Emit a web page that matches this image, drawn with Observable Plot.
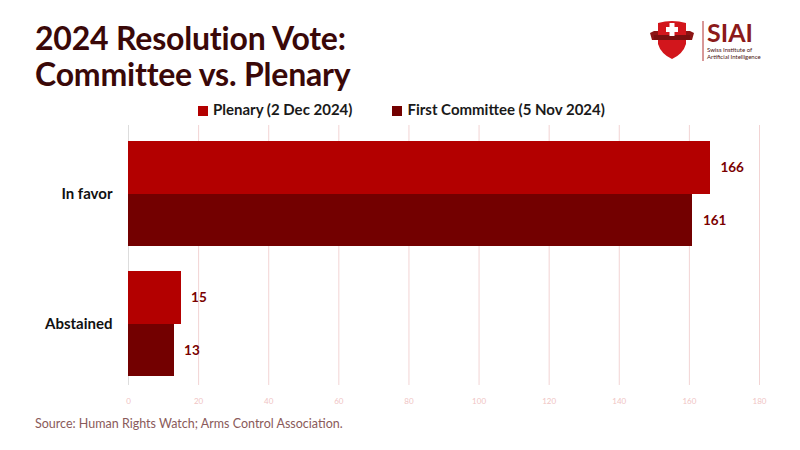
<!DOCTYPE html>
<html>
<head>
<meta charset="utf-8">
<script src="https://cdn.jsdelivr.net/npm/d3@7"></script>
<script src="https://cdn.jsdelivr.net/npm/@observablehq/plot@0.6"></script>
<style>
  body { margin: 0; background: #fff; font-family: Lato, sans-serif; }
  #page { position: relative; width: 800px; height: 450px; overflow: hidden; }
  #title { position: absolute; left: 35px; top: 20px; font-size: 32px; font-weight: 700; line-height: 36px; color: #3a0808; letter-spacing: -0.2px; }
  #logo { position: absolute; left: 648px; top: 14px; }
  #legend { position: absolute; left: 198px; top: 100px; font-size: 15px; font-weight: 700; color: #1a1a1a; display: flex; gap: 40px; }
  #legend span.sw { display: inline-block; width: 10px; height: 10px; margin-right: 5px; vertical-align: -1px; }
  #chart { position: absolute; left: 0; top: 120px; }
  #source { position: absolute; left: 35px; top: 416px; font-size: 12.5px; color: #8a5a5a; }
</style>
</head>
<body>
<div id="page">
  <div id="title">2024 Resolution Vote:<br>Committee vs. Plenary</div>
  <div id="logo">
    <svg width="145" height="52" viewBox="0 0 145 52">
      <path d="M2 19 L6 17 L42 17 L46 19 L44 26 L4 26 Z" fill="#8b1414"/>
      <path d="M10 9 Q24 5 38 9 L38 30 Q35 40 24 45 Q13 40 10 30 Z" fill="#d2161c"/>
      <rect x="6" y="21" width="36" height="5" fill="#7a0f0f"/>
      <rect x="21.5" y="9" width="5" height="13" fill="#fff"/>
      <rect x="18" y="13" width="12" height="5" fill="#fff"/>
      <line x1="55" y1="7" x2="55" y2="47" stroke="#b03030" stroke-width="1"/>
      <text x="59" y="28" font-family="Lato" font-weight="700" font-size="25" fill="#8b1a1a">SIAI</text>
      <text x="59" y="38" font-family="Lato" font-size="6" fill="#4a1010">Swiss Institute of</text>
      <text x="59" y="45" font-family="Lato" font-size="6" fill="#4a1010">Artificial Intelligence</text>
    </svg>
  </div>
  <div id="legend">
    <div><span class="sw" style="background:#b30000"></span>Plenary (2 Dec 2024)</div>
    <div><span class="sw" style="background:#730000"></span>First Committee (5 Nov 2024)</div>
  </div>
  <div id="chart"></div>
  <div id="source">Source: Human Rights Watch; Arms Control Association.</div>
</div>
<script>
const categories = ["In favor", "Abstained"];
const series = ["Plenary (2 Dec 2024)", "First Committee (5 Nov 2024)"];
const plenaryVotes = [166, 15];
const committeeVotes = [161, 13];
const xTicks = [0, 20, 40, 60, 80, 100, 120, 140, 160, 180];

const colors = ["#b30000", "#730000"];
const rows = categories.flatMap((c, i) => [
  {category: c, series: series[0], votes: plenaryVotes[i]},
  {category: c, series: series[1], votes: committeeVotes[i]}
]);

const yScale = {domain: categories, padding: 0.19, paddingOuter: 0.09, align: 0.65, label: null};
const frame = {width: 800, height: 300, marginLeft: 128, marginRight: 41, marginTop: 5, marginBottom: 35};

// measure the band so each bar takes exactly half of it
const probe = Plot.plot({...frame, y: yScale, marks: [Plot.barX(rows, {y: "category", x: "votes"})]});
const half = probe.scale("y").bandwidth / 2;

const chart = Plot.plot({
  ...frame,
  style: {fontFamily: "Lato, sans-serif", background: "transparent"},
  x: {domain: [0, 180], ticks: xTicks, label: null, grid: false},
  y: yScale,
  color: {domain: series, range: colors},
  marks: [
    Plot.gridX(xTicks.slice(1), {stroke: "#f2d4d4", strokeOpacity: 1}),
    Plot.ruleX([0], {stroke: "#dddddd"}),
    Plot.axisX({ticks: xTicks, tickSize: 0, tickPadding: 13, fontSize: 8, fill: "#f0c4c4", label: null}),
    Plot.axisY({tickSize: 0, tickPadding: 16, fontSize: 15, fontWeight: 700, fill: "#111", label: null}),
    Plot.barX(rows.filter(d => d.series === series[0]), {y: "category", x: "votes", fill: "series", insetBottom: half, shapeRendering: "crispEdges"}),
    Plot.barX(rows.filter(d => d.series === series[1]), {y: "category", x: "votes", fill: "series", insetTop: half, shapeRendering: "crispEdges"}),
    Plot.text(rows.filter(d => d.series === series[0]), {y: "category", x: "votes", text: d => String(d.votes), dx: 10, dy: -half / 2, textAnchor: "start", fontSize: 13.5, fontWeight: 700, fill: "#7a0000"}),
    Plot.text(rows.filter(d => d.series === series[1]), {y: "category", x: "votes", text: d => String(d.votes), dx: 10, dy: half / 2, textAnchor: "start", fontSize: 13.5, fontWeight: 700, fill: "#7a0000"})
  ]
});

document.getElementById("chart").append(chart);
</script>
</body>
</html>
